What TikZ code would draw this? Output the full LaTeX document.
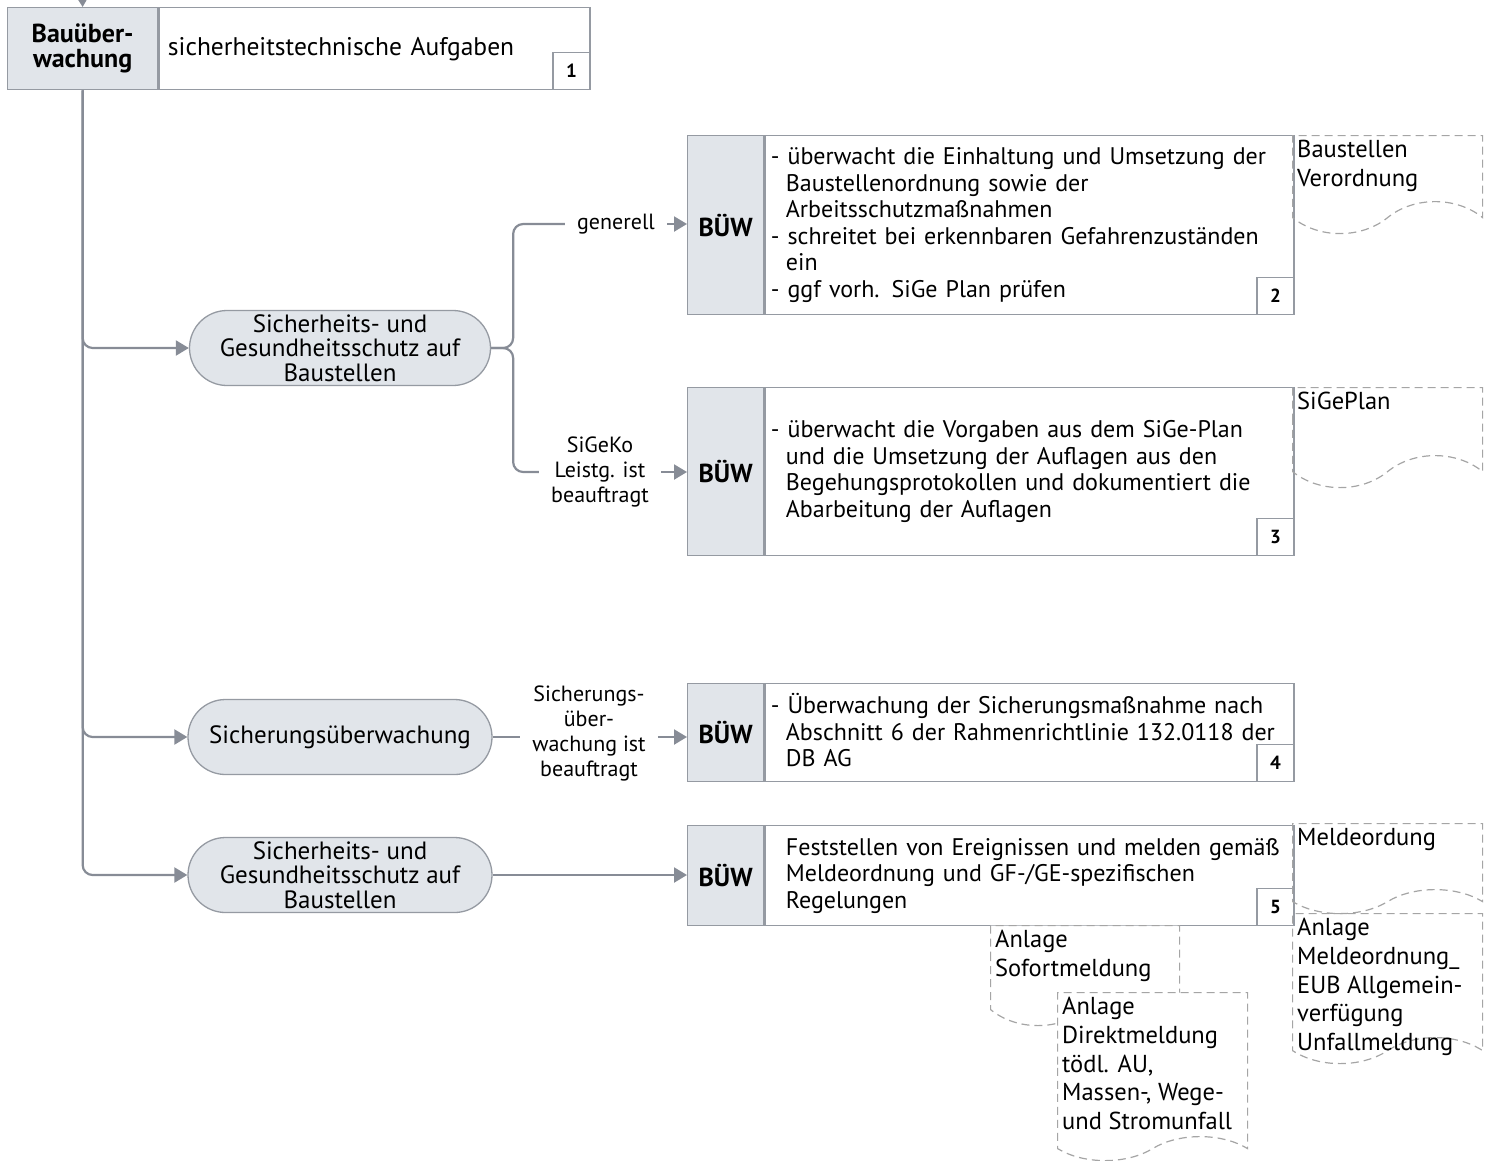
\documentclass[tikz,border=0pt]{standalone}
\usepackage{fontspec}
\setmainfont{PT Sans}
\usetikzlibrary{arrows.meta,shapes.misc,shapes.symbols,positioning}
\definecolor{linegray}{HTML}{878C96}
\definecolor{boxgray}{HTML}{959AA2}
\definecolor{headgray}{HTML}{E1E5EA}
\definecolor{docgray}{HTML}{A5A5A5}
\newcommand{\einr}{\hspace*{15pt}}
\tikzstyle{conn} = [draw=linegray, line width=2.2pt]
\tikzstyle{arrow} = [conn, -{Triangle[length=13pt,width=15pt]}]
\tikzstyle{head} = [draw=boxgray, fill=headgray, line width=1.3pt, font=\bfseries\fontsize{26}{25}\selectfont, minimum width=76pt, anchor=north west, align=center]
\tikzstyle{task} = [draw=boxgray, fill=white, line width=1.3pt, minimum width=529pt, text width=517pt, inner xsep=6pt, anchor=north west, align=left, font=\fontsize{24}{26.5}\selectfont]
\tikzstyle{num} = [draw=boxgray, line width=1.3pt, font=\bfseries\fontsize{19}{20}\selectfont, minimum size=37pt, anchor=south east]
\tikzstyle{pill} = [rectangle, rounded corners=37.5pt, draw=boxgray, fill=headgray, line width=1.3pt, minimum width=301pt, minimum height=75pt, inner sep=0pt, align=center, font=\fontsize{25}{24.5}\selectfont]
\tikzstyle{cond} = [font=\fontsize{22}{25}\selectfont, align=center, inner xsep=12pt]
\tikzstyle{doc} = [tape, tape bend top=none, tape bend bottom=in and out, tape bend height=32pt, draw=docgray, dash pattern=on 8pt off 5pt, line width=1.2pt, minimum width=190pt, anchor=north west]
\tikzstyle{doctext} = [font=\fontsize{24.5}{28.7}\selectfont, align=left, anchor=north west, inner sep=5pt]

\begin{document}
\begin{tikzpicture}[x=1pt, y=-1pt]
\useasboundingbox (0,0) rectangle (1486,1160);

% Kopfzeile
\node[head, minimum width=150pt, minimum height=82pt] (bh) at (7,7) {Bauüber-\\wachung};
\node[task, minimum width=431pt, text width=413pt, inner xsep=9pt, minimum height=82pt, font=\fontsize{25.5}{26.5}\selectfont] (bt) at (bh.north east) {sicherheitstechnische Aufgaben};
\node[num] at (bt.south east) {1};
\coordinate (top) at (82,-20);

% Themen
\node[pill] (p1) at (340,348) {Sicherheits- und\\Gesundheitsschutz auf\\Baustellen};
\node[pill, minimum width=304pt] (p2) at (340,737) {Sicherungsüberwachung};
\node[pill, minimum width=304pt] (p3) at (340,875) {Sicherheits- und\\Gesundheitsschutz auf\\Baustellen};

% Aufgaben BÜW
\node[head, minimum height=179pt] (h2) at (687,135) {BÜW};
\node[task, minimum height=179pt] (t2) at (h2.north east) {- überwacht die Einhaltung und Umsetzung der\\\einr Baustellenordnung sowie der\\\einr Arbeitsschutzmaßnahmen\\- schreitet bei erkennbaren Gefahrenzuständen\\\einr ein\\- ggf vorh. SiGe Plan prüfen};
\node[num] at (t2.south east) {2};

\node[head, minimum height=168pt] (h3) at (687,387) {BÜW};
\node[task, minimum height=168pt] (t3) at (h3.north east) {- überwacht die Vorgaben aus dem SiGe-Plan\\\einr und die Umsetzung der Auflagen aus den\\\einr Begehungsprotokollen und dokumentiert die\\\einr Abarbeitung der Auflagen};
\node[num] at (t3.south east) {3};

\node[head, minimum height=98pt] (h4) at (687,683) {BÜW};
\node[task, minimum height=98pt] (t4) at (h4.north east) {- Überwachung der Sicherungsmaßnahme nach\\\einr Abschnitt 6 der Rahmenrichtlinie 132.0118 der\\\einr DB AG\vspace*{5pt}};
\node[num] at (t4.south east) {4};

\node[head, minimum height=100pt] (h5) at (687,825) {BÜW};
\node[task, minimum height=100pt] (t5) at (h5.north east) {\einr Feststellen von Ereignissen und melden gemäß\\\einr Meldeordnung und GF-/GE-spezifischen\\\einr Regelungen};
\node[num] at (t5.south east) {5};

% Bedingungen
\node[cond] (c2) at (616,224) {generell};
\node[cond] (c3) at (600,472) {SiGeKo\\Leistg. ist\\beauftragt};
\node[cond] (c4) at (589,733) {Sicherungs-\\über-\\wachung ist\\beauftragt};

% Verbindungen
\draw[arrow] (top) -- (bh.north);
\draw[arrow, rounded corners=10pt] (bh.south) |- (p3.west);
\draw[arrow, rounded corners=10pt] (bh.south) |- (p2.west);
\draw[arrow, rounded corners=10pt] (bh.south) |- (p1.west);
\draw[conn, rounded corners=10pt] (p1.east) -- ++(22,0) |- (c2.west);
\draw[conn, rounded corners=10pt] (p1.east) -- ++(22,0) |- (c3.west);
\draw[arrow] (c2.east) -- (c2.east -| h2.west);
\draw[arrow] (c3.east) -- (c3.east -| h3.west);
\draw[conn] (p2.east) -- (c4.west |- p2.east);
\draw[arrow] (c4.east |- p2.east) -- (p2.east -| h4.west);
\draw[arrow] (p3.east) -- (p3.east -| h5.west);

% Dokumente
\node[doc, minimum height=98pt] (dA) at (1292,135) {};
\node[doctext] at (dA.north west) {Baustellen\\Verordnung};
\node[doc, minimum height=100pt] (dB) at (1292,387) {};
\node[doctext] at (dB.north west) {SiGePlan};
\node[doc, minimum height=90pt, tape bend height=24pt] (dC) at (1292,823) {};
\node[doctext] at (dC.north west) {Meldeordung};
\node[doc, minimum height=150pt, tape bend height=26pt] (dD) at (1292,913) {};
\node[doctext] at (dD.north west) {Anlage\\Meldeordnung\_\\EUB Allgemein-\\verfügung\\Unfallmeldung};
\node[doc, fill=white, minimum height=100pt, minimum width=189pt] (dE) at (990,925) {};
\node[doctext] at (dE.north west) {Anlage\\Sofortmeldung};
\node[doc, fill=white, minimum height=168pt, tape bend height=24pt] (dF) at (1057,992) {};
\node[doctext] at (dF.north west) {Anlage\\Direktmeldung\\tödl. AU,\\Massen-, Wege-\\und Stromunfall};
\end{tikzpicture}
\end{document}
